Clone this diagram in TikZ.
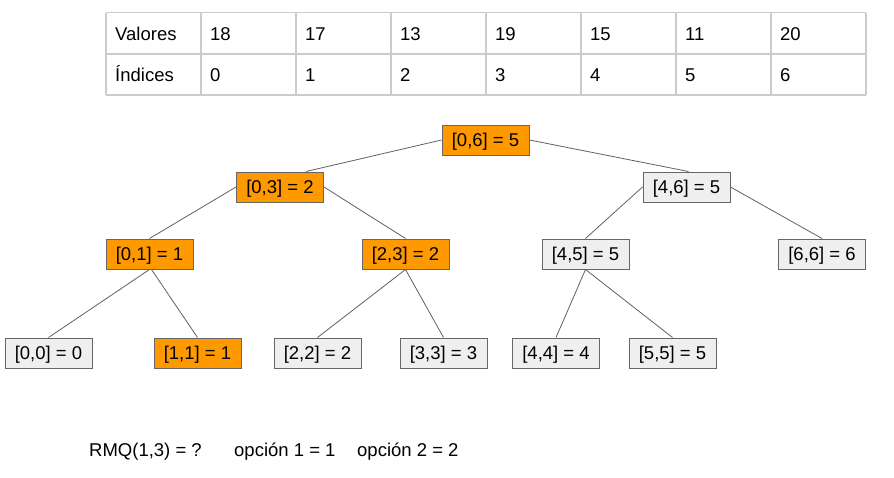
\documentclass[tikz,border=0pt]{standalone}
\usepackage{fontspec}
\setmainfont{Liberation Sans}
\definecolor{rmqorange}{HTML}{FF9900}
\definecolor{rmqgray}{HTML}{EFEFEF}
\definecolor{boxborder}{HTML}{666666}
\definecolor{edgegray}{HTML}{606060}
\definecolor{tablegray}{HTML}{CCCCCC}
\begin{document}
\begin{tikzpicture}[x=1pt,y=-1pt,
  every node/.style={font=\fontsize{18.5}{21}\selectfont},
  seg/.style={draw=boxborder, line width=1pt, minimum width=87pt, minimum height=30pt, inner sep=0pt, text height=13pt, text depth=0pt},
  hot/.style={seg, fill=rmqorange},
  cold/.style={seg, fill=rmqgray},
  link/.style={draw=edgegray, line width=0.8pt},
  grid/.style={draw=tablegray, line width=1.5pt},
  cell/.style={anchor=base west, inner sep=0pt}]
\useasboundingbox (0,0) rectangle (894,477);
% table
\foreach \yy in {12.5,54,95} \draw[grid] (106,\yy) -- (866,\yy);
\foreach \xx in {106,201,296,391,486,581,676,771,866} \draw[grid] (\xx,12.5) -- (\xx,95);
\node[cell] (vlab) at (115,40) {Valores};
\node[cell] (ilab) at (115,81) {Índices};
\foreach \v [count=\i from 0] in {18,17,13,19,15,11,20} {
  \node[cell] (v\i) at ({210+95*\i},40) {\v};
  \node[cell] (i\i) at ({210+95*\i},81) {\i};
}
% tree nodes
\node[hot]  (n06) at (485.5,140) {[0,6] = 5};
\node[hot]  (n03) at (280,187) {[0,3] = 2};
\node[cold] (n46) at (686.5,187) {[4,6] = 5};
\node[hot]  (n01) at (149.5,254) {[0,1] = 1};
\node[hot]  (n23) at (405.5,254) {[2,3] = 2};
\node[cold] (n45) at (585.5,254) {[4,5] = 5};
\node[cold] (n66) at (822,254) {[6,6] = 6};
\node[cold] (n00) at (48.5,353) {[0,0] = 0};
\node[hot]  (n11) at (197.5,353) {[1,1] = 1};
\node[cold] (n22) at (317.5,353) {[2,2] = 2};
\node[cold] (n33) at (443.5,353) {[3,3] = 3};
\node[cold] (n44) at (556,353) {[4,4] = 4};
\node[cold] (n55) at (672.5,353) {[5,5] = 5};
% edges
\draw[link] (n06.west) -- ([xshift=26pt]n03.north);
\draw[link] (n06.east) -- ([xshift=2pt]n46.north);
\draw[link] (n03.west) -- (n01.north);
\draw[link] (n03.east) -- (n23.north);
\draw[link] (n46.west) -- (n45.north);
\draw[link] (n46.east) -- (n66.north);
\draw[link] (n01.south) -- (n00.north);
\draw[link] ([xshift=2pt]n01.south) -- (n11.north);
\draw[link] (n23.south) -- (n22.north);
\draw[link] (n23.south) -- (n33.north);
\draw[link] (n45.south) -- (n44.north);
\draw[link] (n45.south) -- (n55.north);
% query
\node[cell] (q) at (89,456) {RMQ(1,3) = ?};
\node[cell] (o1) at (234,456) {opción 1 = 1};
\node[cell] (o2) at (357,456) {opción 2 = 2};
\end{tikzpicture}
\end{document}
